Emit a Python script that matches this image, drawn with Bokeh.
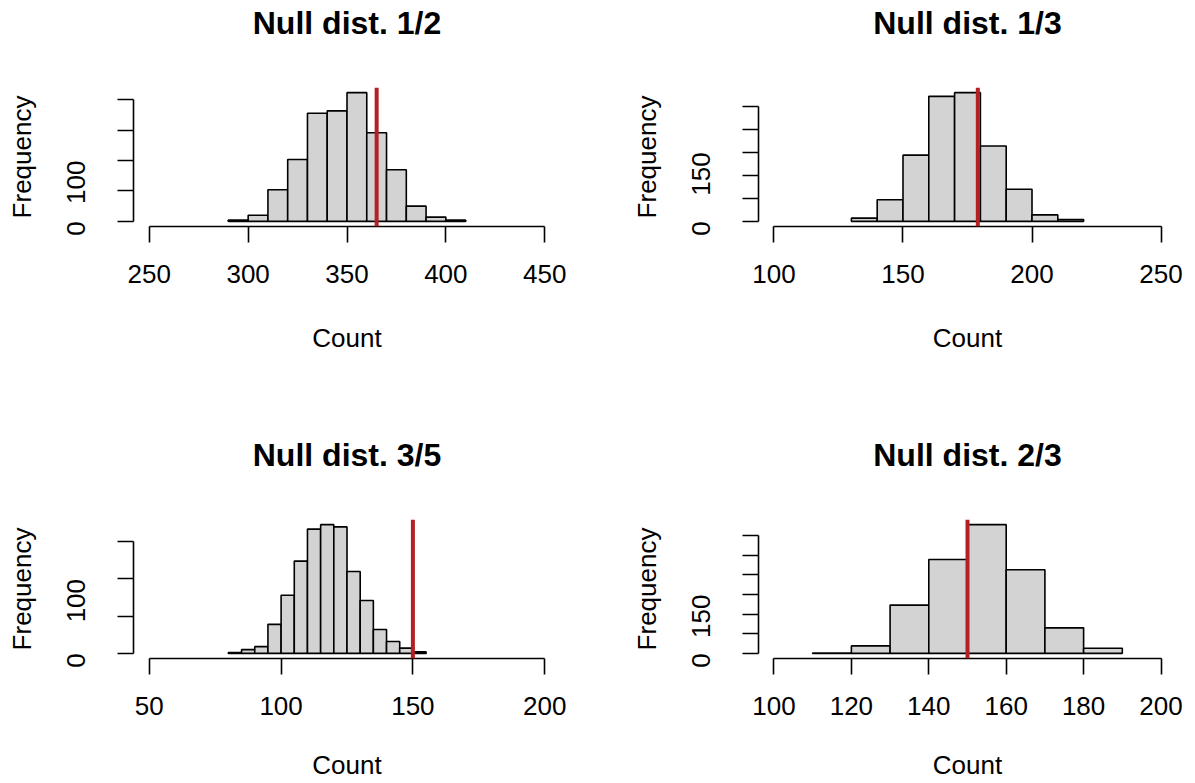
import math
from bokeh.plotting import figure
from bokeh.layouts import gridplot
from bokeh.models import Range1d, FixedTicker, Span, LinearAxis
from bokeh.embed import file_html
from bokeh.resources import INLINE

# ---------------- data ----------------
titles = ["Null dist. 1/2", "Null dist. 1/3", "Null dist. 3/5", "Null dist. 2/3"]

breaks_12 = [290, 300, 310, 320, 330, 340, 350, 360, 370, 380, 390, 400, 410]
counts_12 = [2, 10, 52, 102, 178, 182, 212, 146, 85, 25, 7, 2]
observed_12 = 365
xticks_12 = [250, 300, 350, 400, 450]
yticks_12 = [0, 50, 100, 150, 200]
ylabels_12 = ["0", "", "100", "", ""]

breaks_13 = [130, 140, 150, 160, 170, 180, 190, 200, 210, 220]
counts_13 = [7, 47, 144, 272, 280, 164, 70, 14, 4]
observed_13 = 179
xticks_13 = [100, 150, 200, 250]
yticks_13 = [0, 50, 100, 150, 200, 250]
ylabels_13 = ["0", "", "", "150", "", ""]

breaks_35 = [80, 85, 90, 95, 100, 105, 110, 115, 120, 125, 130, 135, 140, 145, 150, 155]
counts_35 = [1, 5, 9, 39, 78, 124, 167, 173, 170, 110, 71, 32, 16, 7, 2]
observed_35 = 150
xticks_35 = [50, 100, 150, 200]
yticks_35 = [0, 50, 100, 150]
ylabels_35 = ["0", "", "100", ""]

breaks_23 = [110, 120, 130, 140, 150, 160, 170, 180, 190]
counts_23 = [1, 19, 123, 239, 328, 213, 65, 13]
observed_23 = 150
xticks_23 = [100, 120, 140, 160, 180, 200]
yticks_23 = [0, 50, 100, 150, 200, 250, 300]
ylabels_23 = ["0", "", "", "150", "", "", ""]

x_label = "Count"
y_label = "Frequency"

# ---------------- style ----------------
FONT = "Liberation Sans"
BAR_FILL = "#D3D3D3"
RED = "#B22222"


def make_panel(title, breaks, counts, observed, xticks, yticks, ylabels,
               width, height, b_left, b_right, b_top, b_bottom, xlab_standoff):
    x0, x1 = xticks[0], xticks[-1]
    dx = (x1 - x0) * 0.04
    ymax = max(counts)
    dy = ymax * 0.04
    p = figure(width=width, height=height, output_backend="svg",
               toolbar_location=None, tools="",
               x_range=Range1d(x0 - dx, x1 + dx),
               y_range=Range1d(-dy, ymax + dy),
               min_border_left=b_left, min_border_right=b_right,
               min_border_top=b_top, min_border_bottom=b_bottom)
    p.outline_line_color = None
    p.xgrid.visible = False
    p.ygrid.visible = False
    p.background_fill_color = "white"
    p.border_fill_color = "white"

    p.quad(left=breaks[:-1], right=breaks[1:], top=counts, bottom=0,
           fill_color=BAR_FILL, line_color="black", line_width=1.6)

    p.add_layout(Span(location=observed, dimension="height",
                      line_color=RED, line_width=4))

    xa = p.below[0]
    ya = p.left[0]
    for ax in (xa, ya):
        ax.axis_line_width = 1.6
        ax.major_tick_line_width = 1.6
        ax.major_tick_out = 16
        ax.major_tick_in = 0
        ax.minor_tick_out = 0
        ax.minor_tick_in = 0
        ax.major_label_text_font = FONT
        ax.major_label_text_font_size = "26px"
        ax.major_label_text_color = "black"
        ax.axis_label_text_font = FONT
        ax.axis_label_text_font_size = "26px"
        ax.axis_label_text_font_style = "normal"
        ax.axis_label_text_color = "black"

    xa.ticker = FixedTicker(ticks=xticks)
    xa.bounds = (x0, x1)
    xa.major_label_standoff = 22
    xa.axis_label = x_label
    xa.axis_label_standoff = xlab_standoff

    ya.ticker = FixedTicker(ticks=yticks)
    ya.bounds = (yticks[0], yticks[-1])
    ya.major_label_overrides = {t: l for t, l in zip(yticks, ylabels)}
    ya.major_label_orientation = math.pi / 2
    ya.major_label_standoff = 41
    ya.axis_label = y_label
    ya.axis_label_standoff = 19

    # main title drawn as the label of a bare axis above the plot region
    top = LinearAxis(ticker=FixedTicker(ticks=[]), axis_line_color=None,
                     major_tick_line_color=None, minor_tick_line_color=None,
                     major_tick_out=0, major_tick_in=0,
                     minor_tick_out=0, minor_tick_in=0,
                     major_label_text_font_size="0px",
                     axis_label=title, axis_label_text_font=FONT,
                     axis_label_text_font_size="32px",
                     axis_label_text_font_style="bold",
                     axis_label_text_color="black",
                     axis_label_standoff=47)
    p.add_layout(top, "above")
    return p


p1 = make_panel(titles[0], breaks_12, counts_12, observed_12, xticks_12, yticks_12, ylabels_12,
                605, 400, 133, 45, 87, 174, 37)
p2 = make_panel(titles[1], breaks_13, counts_13, observed_13, xticks_13, yticks_13, ylabels_13,
                588, 400, 153, 17, 87, 174, 37)
p3 = make_panel(titles[2], breaks_35, counts_35, observed_35, xticks_35, yticks_35, ylabels_35,
                605, 382, 133, 45, 119, 124, 32)
p4 = make_panel(titles[3], breaks_23, counts_23, observed_23, xticks_23, yticks_23, ylabels_23,
                588, 382, 153, 17, 119, 124, 32)

grid = gridplot([[p1, p2], [p3, p4]], toolbar_location=None)

open("out.html", "w").write(file_html(grid, INLINE))
